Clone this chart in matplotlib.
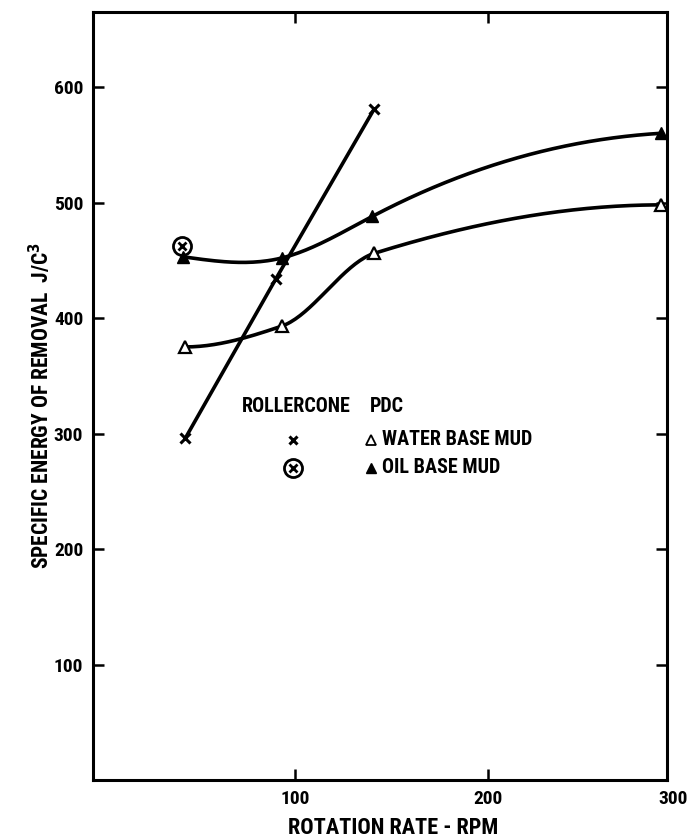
import numpy as np
import matplotlib
matplotlib.use('Agg')
import matplotlib.pyplot as plt

# rotation rate (rpm) and specific energy of removal (J/cm^3)
rc_water_rpm = [43, 90, 141]
rc_water_energy = [296, 434, 581]

rc_oil_rpm = [41]
rc_oil_energy = [462]

pdc_water_rpm = [43, 93, 141, 290]
pdc_water_energy = [375, 393, 456, 498]

pdc_oil_rpm = [42, 93, 140, 290]
pdc_oil_energy = [453, 452, 488, 560]

x_ticks = [100, 200]
y_ticks = [100, 200, 300, 400, 500, 600]


def spline(xs, ys, end_slope=None, n=200):
	# cubic spline through the points; natural ends unless a right end slope is given
	xs = np.asarray(xs, float)
	ys = np.asarray(ys, float)
	k = len(xs)
	h = np.diff(xs)
	A = np.zeros((k, k))
	b = np.zeros(k)
	A[0, 0] = 1
	for i in range(1, k - 1):
		A[i, i - 1] = h[i - 1]
		A[i, i] = 2 * (h[i - 1] + h[i])
		A[i, i + 1] = h[i]
		b[i] = 6 * ((ys[i + 1] - ys[i]) / h[i] - (ys[i] - ys[i - 1]) / h[i - 1])
	if end_slope is None:
		A[-1, -1] = 1
	else:
		A[-1, -2] = h[-1]
		A[-1, -1] = 2 * h[-1]
		b[-1] = 6 * (end_slope - (ys[-1] - ys[-2]) / h[-1])
	m = np.linalg.solve(A, b)
	xx = np.linspace(xs[0], xs[-1], n)
	idx = np.clip(np.searchsorted(xs, xx) - 1, 0, k - 2)
	x0, x1 = xs[idx], xs[idx + 1]
	y0, y1 = ys[idx], ys[idx + 1]
	m0, m1 = m[idx], m[idx + 1]
	hh = x1 - x0
	t0, t1 = x1 - xx, xx - x0
	yy = (m0 * t0 ** 3 + m1 * t1 ** 3) / (6 * hh) + (y0 / hh - m0 * hh / 6) * t0 + (y1 / hh - m1 * hh / 6) * t1
	return xx, yy


def pchip(xs, ys, n=200):
	# monotone piecewise cubic (Fritsch-Carlson), no overshoot past the points
	xs = np.asarray(xs, float)
	ys = np.asarray(ys, float)
	k = len(xs)
	h = np.diff(xs)
	delta = np.diff(ys) / h
	d = np.zeros(k)
	for i in range(1, k - 1):
		if delta[i - 1] * delta[i] > 0:
			w1 = 2 * h[i] + h[i - 1]
			w2 = h[i] + 2 * h[i - 1]
			d[i] = (w1 + w2) / (w1 / delta[i - 1] + w2 / delta[i])
	for i in (0, k - 1):
		h0, h1 = (h[0], h[1]) if i == 0 else (h[-1], h[-2])
		d0, d1 = (delta[0], delta[1]) if i == 0 else (delta[-1], delta[-2])
		e = ((2 * h0 + h1) * d0 - h0 * d1) / (h0 + h1)
		if e * d0 <= 0:
			e = 0
		elif d0 * d1 <= 0 and abs(e) > abs(3 * d0):
			e = 3 * d0
		d[i] = e
	xx = np.linspace(xs[0], xs[-1], n)
	idx = np.clip(np.searchsorted(xs, xx) - 1, 0, k - 2)
	t = (xx - xs[idx]) / h[idx]
	h00 = 1 - 3 * t ** 2 + 2 * t ** 3
	h10 = t - 2 * t ** 2 + t ** 3
	h01 = 3 * t ** 2 - 2 * t ** 3
	h11 = t ** 3 - t ** 2
	yy = h00 * ys[idx] + h10 * h[idx] * d[idx] + h01 * ys[idx + 1] + h11 * h[idx] * d[idx + 1]
	return xx, yy


plt.rcParams['font.family'] = ['Roboto Condensed', 'Liberation Sans Narrow', 'DejaVu Sans']
plt.rcParams['font.stretch'] = 'condensed'
plt.rcParams['font.weight'] = 'bold'
plt.rcParams['axes.labelweight'] = 'bold'

fig = plt.figure(figsize=(6.88, 8.39), dpi=100)
ax = fig.add_axes([0.135, 0.0703, 0.8345, 0.9154])

lw = 2.6
ax.plot(rc_water_rpm, rc_water_energy, color='black', lw=lw, solid_capstyle='round')
ax.plot(rc_water_rpm, rc_water_energy, 'x', color='black', ms=7, mew=2.2)

ax.plot(*pchip(pdc_water_rpm, pdc_water_energy), color='black', lw=lw)
ax.plot(pdc_water_rpm, pdc_water_energy, '^', color='black', mfc='white', ms=8, mew=1.6)

ax.plot(*spline(pdc_oil_rpm, pdc_oil_energy, end_slope=0.1), color='black', lw=lw)
ax.plot(pdc_oil_rpm, pdc_oil_energy, '^', color='black', ms=8)

ax.plot(rc_oil_rpm, rc_oil_energy, 'o', color='black', mfc='none', ms=13, mew=2)
ax.plot(rc_oil_rpm, rc_oil_energy, 'x', color='black', ms=6, mew=2)

# key
fs = 14.5
ax.text(72.5, 323, "ROLLERCONE", fontsize=fs, va='center', ha='left')
ax.text(139, 323, "PDC", fontsize=fs, va='center', ha='left')
ax.plot([99], [294], 'x', color='black', ms=6, mew=2.2)
ax.plot([139.5], [294.5], '^', color='black', mfc='white', ms=7, mew=1.3)
ax.text(145, 294.5, "WATER BASE MUD", fontsize=fs, va='center', ha='left')
ax.plot([99], [270], 'o', color='black', mfc='none', ms=13, mew=2)
ax.plot([99], [270], 'x', color='black', ms=6, mew=2)
ax.plot([139.5], [270.5], '^', color='black', ms=7)
ax.text(145, 270.5, "OIL BASE MUD", fontsize=fs, va='center', ha='left')

ax.set_xticks(x_ticks)
ax.set_xticklabels([str(v) for v in x_ticks], fontsize=14)
ax.set_yticks(y_ticks)
ax.set_yticklabels([str(v) for v in y_ticks], fontsize=14)
ax.set_xlim(-5, 293)
ax.set_ylim(0, 665)
ax.tick_params(direction='in', length=8, width=1.8, top=True, right=True, pad=7)
# 300 sits at the lower right corner
ax.annotate("300", xy=(1, 0), xycoords='axes fraction', xytext=(4, -7),
	textcoords='offset points', ha='center', va='top', fontsize=14)
for s in ax.spines.values():
	s.set_linewidth(2.2)

ax.set_xlabel("ROTATION RATE - RPM", fontsize=16)
ax.set_ylabel("SPECIFIC ENERGY OF REMOVAL  J/C$^3$", fontsize=15.5)
ax.xaxis.set_label_coords(0.523, -0.048)
ax.yaxis.set_label_coords(-0.068, 0.487)

fig.savefig("out.png", dpi=100)
